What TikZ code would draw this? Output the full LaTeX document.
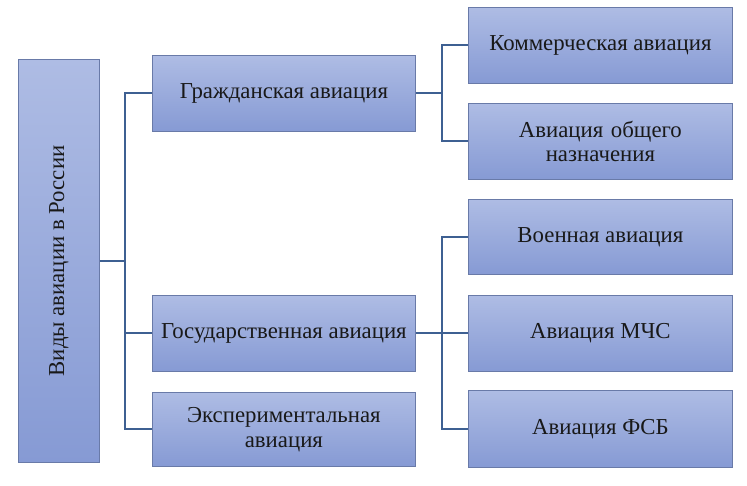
\documentclass[tikz,border=0pt]{standalone}
\usepackage{fontspec}
\setmainfont{Liberation Serif}
\definecolor{boxtop}{RGB}{174,188,228}
\definecolor{boxbot}{RGB}{134,154,212}
\definecolor{boxline}{RGB}{105,122,168}
\definecolor{conn}{RGB}{62,96,146}
\begin{document}
\begin{tikzpicture}[x=1pt,y=-1pt,
  box/.style={draw=boxline, line width=0.8pt, top color=boxtop, bottom color=boxbot,
    anchor=north west, inner sep=0pt, align=center, font=\fontsize{22.8}{24.5}\selectfont,
    text=black!90},
  link/.style={draw=conn, line width=2pt}]
\useasboundingbox (0,0) rectangle (747,485);
\node[box, minimum width=81pt, minimum height=403pt] (root) at (18,59) {};
\node[rotate=90, font=\fontsize{22.8}{24.5}\selectfont, text=black!90] (rootlbl) at (root.center) {Виды авиации в России};
\node[box, minimum width=263pt, minimum height=76pt] (civ) at (152,55) {Гражданская авиация};
\node[box, minimum width=263pt, minimum height=76pt] (gov) at (152,295) {Государственная авиация};
\node[box, minimum width=263pt, minimum height=74pt, text width=258pt] (exp) at (152,392) {Экспериментальная\\авиация};
\node[box, minimum width=264pt, minimum height=76pt] (com) at (468,7) {Коммерческая авиация};
\node[box, minimum width=264pt, minimum height=76pt, text width=258pt] (gen) at (468,103) {Авиация общего\\назначения};
\node[box, minimum width=264pt, minimum height=75pt] (mil) at (468,199) {Военная авиация};
\node[box, minimum width=264pt, minimum height=76pt] (emr) at (468,295) {Авиация МЧС};
\node[box, minimum width=264pt, minimum height=77pt] (fsb) at (468,390) {Авиация ФСБ};
\coordinate (t1) at (125,0);
\coordinate (t2) at (442,0);
\draw[link] (root.east) -- (root.east -| t1);
\draw[link] (civ.west) -- (civ.west -| t1) -- (exp.west -| t1) -- (exp.west);
\draw[link] (gov.west) -- (gov.west -| t1);
\draw[link] (civ.east) -- (civ.east -| t2);
\draw[link] (com.west) -- (com.west -| t2) -- (gen.west -| t2) -- (gen.west);
\draw[link] (gov.east) -- (emr.west);
\draw[link] (mil.west) -- (mil.west -| t2) -- (fsb.west -| t2) -- (fsb.west);
\end{tikzpicture}
\end{document}
